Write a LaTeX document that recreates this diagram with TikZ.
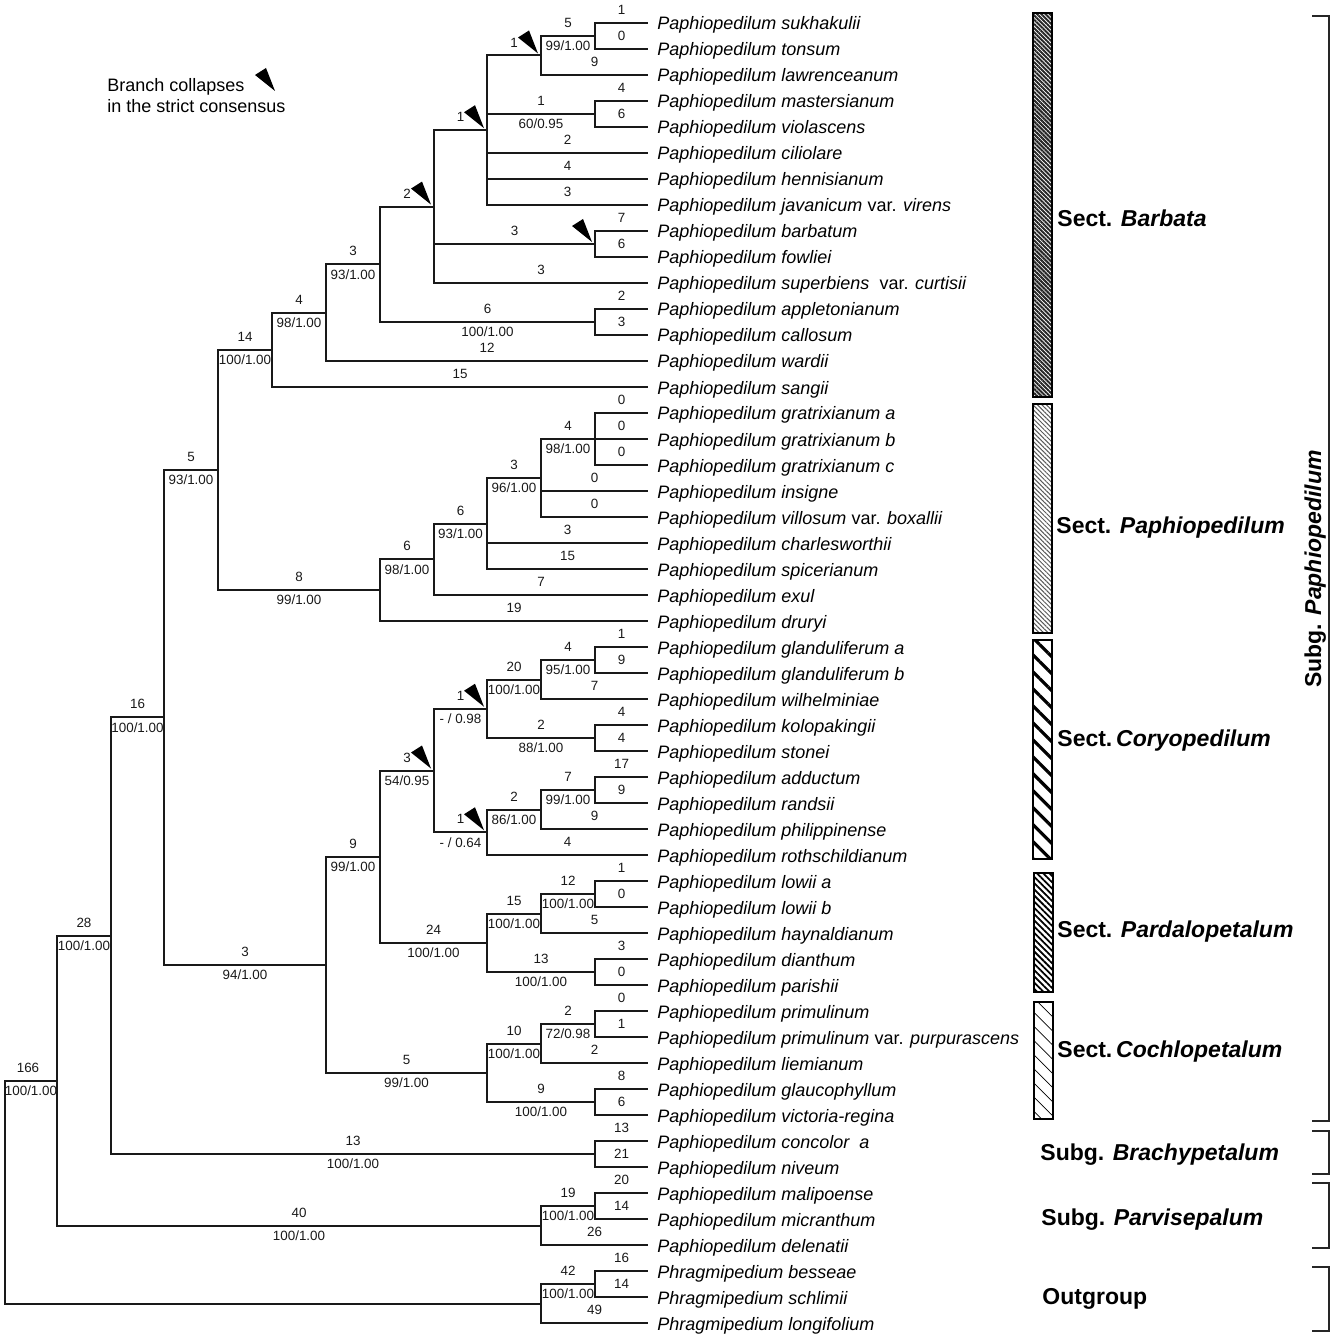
\documentclass[tikz,border=0pt]{standalone}
\usepackage{fontspec}
\setmainfont{Liberation Sans}
\usetikzlibrary{patterns.meta}
\newcommand\labfont{\fontsize{6.7pt}{8pt}\selectfont}
\newcommand\taxfont{\fontsize{9pt}{11pt}\selectfont}
\newcommand\grpfont{\fontsize{11.5pt}{13pt}\selectfont\bfseries}
\begin{document}
\begin{tikzpicture}[x=0.5pt,y=-0.5pt,
  br/.style={line width=1pt, line join=miter, black!90},
  lenlab/.style={pos=0.75, yshift=6.5pt, font=\labfont, inner sep=0pt},
  suplab/.style={pos=0.75, yshift=-5pt, font=\labfont, inner sep=0pt},
  tip/.style={anchor=west, inner xsep=4.5pt, inner ysep=0pt, text height=7pt, text depth=0pt, font=\taxfont},
  grp/.style={anchor=west, inner sep=0pt, text height=8.2pt, text depth=0pt, font=\grpfont},
  bar/.style={draw=black, line width=0.8pt},
  brk/.style={draw=black!85, line width=0.75pt},
  collapsemark/.pic={\fill (-3,-2) -- (-23,-18) -- (-12,-25) -- cycle;}
]
\useasboundingbox (0,0) rectangle (1334,1336);

% legend
\node[anchor=base west, inner sep=0pt, font=\taxfont] (leg1) at (107,92) {Branch collapses};
\node[anchor=base west, inner sep=0pt, font=\taxfont] (leg2) at (107,113) {in the strict consensus};
\pic at (278,93) {collapsemark};

% tips
\node[tip] (t1) at (648,23) {\textit{Paphiopedilum sukhakulii}};
\node[tip] (t2) at (648,49) {\textit{Paphiopedilum tonsum}};
\node[tip] (t3) at (648,75) {\textit{Paphiopedilum lawrenceanum}};
\node[tip] (t4) at (648,101) {\textit{Paphiopedilum mastersianum}};
\node[tip] (t5) at (648,127) {\textit{Paphiopedilum violascens}};
\node[tip] (t6) at (648,153) {\textit{Paphiopedilum ciliolare}};
\node[tip] (t7) at (648,179) {\textit{Paphiopedilum hennisianum}};
\node[tip] (t8) at (648,205) {\textit{Paphiopedilum javanicum} var. \textit{virens}};
\node[tip] (t9) at (648,231) {\textit{Paphiopedilum barbatum}};
\node[tip] (t10) at (648,257) {\textit{Paphiopedilum fowliei}};
\node[tip] (t11) at (648,283) {\textit{Paphiopedilum superbiens}\ \ var. \textit{curtisii}};
\node[tip] (t12) at (648,309) {\textit{Paphiopedilum appletonianum}};
\node[tip] (t13) at (648,335) {\textit{Paphiopedilum callosum}};
\node[tip] (t14) at (648,361) {\textit{Paphiopedilum wardii}};
\node[tip] (t15) at (648,387) {\textit{Paphiopedilum sangii}};
\node[tip] (t16) at (648,413) {\textit{Paphiopedilum gratrixianum a}};
\node[tip] (t17) at (648,439) {\textit{Paphiopedilum gratrixianum b}};
\node[tip] (t18) at (648,465) {\textit{Paphiopedilum gratrixianum c}};
\node[tip] (t19) at (648,491) {\textit{Paphiopedilum insigne}};
\node[tip] (t20) at (648,517) {\textit{Paphiopedilum villosum} var. \textit{boxallii}};
\node[tip] (t21) at (648,543) {\textit{Paphiopedilum charlesworthii}};
\node[tip] (t22) at (648,569) {\textit{Paphiopedilum spicerianum}};
\node[tip] (t23) at (648,595) {\textit{Paphiopedilum exul}};
\node[tip] (t24) at (648,621) {\textit{Paphiopedilum druryi}};
\node[tip] (t25) at (648,647) {\textit{Paphiopedilum glanduliferum a}};
\node[tip] (t26) at (648,673) {\textit{Paphiopedilum glanduliferum b}};
\node[tip] (t27) at (648,699) {\textit{Paphiopedilum wilhelminiae}};
\node[tip] (t28) at (648,725) {\textit{Paphiopedilum kolopakingii}};
\node[tip] (t29) at (648,751) {\textit{Paphiopedilum stonei}};
\node[tip] (t30) at (648,777) {\textit{Paphiopedilum adductum}};
\node[tip] (t31) at (648,803) {\textit{Paphiopedilum randsii}};
\node[tip] (t32) at (648,829) {\textit{Paphiopedilum philippinense}};
\node[tip] (t33) at (648,855) {\textit{Paphiopedilum rothschildianum}};
\node[tip] (t34) at (648,881) {\textit{Paphiopedilum lowii a}};
\node[tip] (t35) at (648,907) {\textit{Paphiopedilum lowii b}};
\node[tip] (t36) at (648,933) {\textit{Paphiopedilum haynaldianum}};
\node[tip] (t37) at (648,959) {\textit{Paphiopedilum dianthum}};
\node[tip] (t38) at (648,985) {\textit{Paphiopedilum parishii}};
\node[tip] (t39) at (648,1011) {\textit{Paphiopedilum primulinum}};
\node[tip] (t40) at (648,1037) {\textit{Paphiopedilum primulinum} var. \textit{purpurascens}};
\node[tip] (t41) at (648,1063) {\textit{Paphiopedilum liemianum}};
\node[tip] (t42) at (648,1089) {\textit{Paphiopedilum glaucophyllum}};
\node[tip] (t43) at (648,1115) {\textit{Paphiopedilum victoria-regina}};
\node[tip] (t44) at (648,1141) {\textit{Paphiopedilum concolor\ \ a}};
\node[tip] (t45) at (648,1167) {\textit{Paphiopedilum niveum}};
\node[tip] (t46) at (648,1193) {\textit{Paphiopedilum malipoense}};
\node[tip] (t47) at (648,1219) {\textit{Paphiopedilum micranthum}};
\node[tip] (t48) at (648,1245) {\textit{Paphiopedilum delenatii}};
\node[tip] (t49) at (648,1271) {\textit{Phragmipedium besseae}};
\node[tip] (t50) at (648,1297) {\textit{Phragmipedium schlimii}};
\node[tip] (t51) at (648,1323) {\textit{Phragmipedium longifolium}};

% internal nodes
\coordinate (A1) at (595,36);
\coordinate (A2) at (541,55.5);
\coordinate (A3) at (595,114);
\coordinate (A4) at (487,130.25);
\coordinate (A5) at (595,244);
\coordinate (A6) at (434,206.6);
\coordinate (A7) at (595,322);
\coordinate (A8) at (380,264.3);
\coordinate (A9) at (326,312.6);
\coordinate (A10) at (272,349.8);
\coordinate (B1) at (595,439);
\coordinate (B2) at (541,478);
\coordinate (B3) at (487,523.5);
\coordinate (B4) at (434,559.25);
\coordinate (B5) at (380,590.1);
\coordinate (B6) at (218,470);
\coordinate (C1) at (595,660);
\coordinate (C2) at (541,679.5);
\coordinate (C3) at (595,738);
\coordinate (C4) at (487,708.75);
\coordinate (C5) at (595,790);
\coordinate (C6) at (541,809.5);
\coordinate (C7) at (487,832.25);
\coordinate (C8) at (434,770.5);
\coordinate (D1) at (595,894);
\coordinate (D2) at (541,913.5);
\coordinate (D3) at (595,972);
\coordinate (D4) at (487,942.75);
\coordinate (D5) at (380,856.6);
\coordinate (E1) at (595,1024);
\coordinate (E2) at (541,1043.5);
\coordinate (E3) at (595,1102);
\coordinate (E4) at (487,1072.75);
\coordinate (D6) at (326,964.7);
\coordinate (F1) at (164,717.3);
\coordinate (G1) at (595,1154);
\coordinate (F2) at (111,935.7);
\coordinate (H1) at (595,1206);
\coordinate (H2) at (541,1225.5);
\coordinate (F3) at (57,1080.6);
\coordinate (I1) at (595,1284);
\coordinate (I2) at (541,1303.5);
\coordinate (R) at (5,1192);

% Barbata
\draw[br] (A1) |- (t1.west) node[lenlab]{1};
\draw[br] (A1) |- (t2.west) node[lenlab]{0};
\draw[br] (A2) |- (A1) node[lenlab]{5} node[suplab]{99/1.00};
\draw[br] (A2) |- (t3.west) node[lenlab]{9};
\draw[br] (A3) |- (t4.west) node[lenlab]{4};
\draw[br] (A3) |- (t5.west) node[lenlab]{6};
\draw[br] (A4) |- (A2) node[lenlab]{1};
\draw[br] (A4) |- (A3) node[lenlab]{1} node[suplab]{60/0.95};
\draw[br] (A4) |- (t6.west) node[lenlab]{2};
\draw[br] (A4) |- (t7.west) node[lenlab]{4};
\draw[br] (A4) |- (t8.west) node[lenlab]{3};
\draw[br] (A5) |- (t9.west) node[lenlab]{7};
\draw[br] (A5) |- (t10.west) node[lenlab]{6};
\draw[br] (A6) |- (A4) node[lenlab]{1};
\draw[br] (A6) |- (A5) node[lenlab]{3};
\draw[br] (A6) |- (t11.west) node[lenlab]{3};
\draw[br] (A7) |- (t12.west) node[lenlab]{2};
\draw[br] (A7) |- (t13.west) node[lenlab]{3};
\draw[br] (A8) |- (A6) node[lenlab]{2};
\draw[br] (A8) |- (A7) node[lenlab]{6} node[suplab]{100/1.00};
\draw[br] (A9) |- (A8) node[lenlab]{3} node[suplab]{93/1.00};
\draw[br] (A9) |- (t14.west) node[lenlab]{12};
\draw[br] (A10) |- (A9) node[lenlab]{4} node[suplab]{98/1.00};
\draw[br] (A10) |- (t15.west) node[lenlab]{15};
\draw[br] (B6) |- (A10) node[lenlab]{14} node[suplab]{100/1.00};
% Paphiopedilum
\draw[br] (B1) |- (t16.west) node[lenlab]{0};
\draw[br] (B1) |- (t17.west) node[lenlab]{0};
\draw[br] (B1) |- (t18.west) node[lenlab]{0};
\draw[br] (B2) |- (B1) node[lenlab]{4} node[suplab]{98/1.00};
\draw[br] (B2) |- (t19.west) node[lenlab]{0};
\draw[br] (B2) |- (t20.west) node[lenlab]{0};
\draw[br] (B3) |- (B2) node[lenlab]{3} node[suplab]{96/1.00};
\draw[br] (B3) |- (t21.west) node[lenlab]{3};
\draw[br] (B3) |- (t22.west) node[lenlab]{15};
\draw[br] (B4) |- (B3) node[lenlab]{6} node[suplab]{93/1.00};
\draw[br] (B4) |- (t23.west) node[lenlab]{7};
\draw[br] (B5) |- (B4) node[lenlab]{6} node[suplab]{98/1.00};
\draw[br] (B5) |- (t24.west) node[lenlab]{19};
\draw[br] (B6) |- (B5) node[lenlab]{8} node[suplab]{99/1.00};
\draw[br] (F1) |- (B6) node[lenlab]{5} node[suplab]{93/1.00};
% Coryopedilum
\draw[br] (C1) |- (t25.west) node[lenlab]{1};
\draw[br] (C1) |- (t26.west) node[lenlab]{9};
\draw[br] (C2) |- (C1) node[lenlab]{4} node[suplab]{95/1.00};
\draw[br] (C2) |- (t27.west) node[lenlab]{7};
\draw[br] (C3) |- (t28.west) node[lenlab]{4};
\draw[br] (C3) |- (t29.west) node[lenlab]{4};
\draw[br] (C4) |- (C2) node[lenlab]{20} node[suplab]{100/1.00};
\draw[br] (C4) |- (C3) node[lenlab]{2} node[suplab]{88/1.00};
\draw[br] (C5) |- (t30.west) node[lenlab]{17};
\draw[br] (C5) |- (t31.west) node[lenlab]{9};
\draw[br] (C6) |- (C5) node[lenlab]{7} node[suplab]{99/1.00};
\draw[br] (C6) |- (t32.west) node[lenlab]{9};
\draw[br] (C7) |- (C6) node[lenlab]{2} node[suplab]{86/1.00};
\draw[br] (C7) |- (t33.west) node[lenlab]{4};
\draw[br] (C8) |- (C4) node[lenlab]{1} node[suplab]{- / 0.98};
\draw[br] (C8) |- (C7) node[lenlab]{1} node[suplab]{- / 0.64};
\draw[br] (D5) |- (C8) node[lenlab]{3} node[suplab]{54/0.95};
% Pardalopetalum
\draw[br] (D1) |- (t34.west) node[lenlab]{1};
\draw[br] (D1) |- (t35.west) node[lenlab]{0};
\draw[br] (D2) |- (D1) node[lenlab]{12} node[suplab]{100/1.00};
\draw[br] (D2) |- (t36.west) node[lenlab]{5};
\draw[br] (D3) |- (t37.west) node[lenlab]{3};
\draw[br] (D3) |- (t38.west) node[lenlab]{0};
\draw[br] (D4) |- (D2) node[lenlab]{15} node[suplab]{100/1.00};
\draw[br] (D4) |- (D3) node[lenlab]{13} node[suplab]{100/1.00};
\draw[br] (D5) |- (D4) node[lenlab]{24} node[suplab]{100/1.00};
\draw[br] (D6) |- (D5) node[lenlab]{9} node[suplab]{99/1.00};
% Cochlopetalum
\draw[br] (E1) |- (t39.west) node[lenlab]{0};
\draw[br] (E1) |- (t40.west) node[lenlab]{1};
\draw[br] (E2) |- (E1) node[lenlab]{2} node[suplab]{72/0.98};
\draw[br] (E2) |- (t41.west) node[lenlab]{2};
\draw[br] (E3) |- (t42.west) node[lenlab]{8};
\draw[br] (E3) |- (t43.west) node[lenlab]{6};
\draw[br] (E4) |- (E2) node[lenlab]{10} node[suplab]{100/1.00};
\draw[br] (E4) |- (E3) node[lenlab]{9} node[suplab]{100/1.00};
\draw[br] (D6) |- (E4) node[lenlab]{5} node[suplab]{99/1.00};
\draw[br] (F1) |- (D6) node[lenlab]{3} node[suplab]{94/1.00};
\draw[br] (F2) |- (F1) node[lenlab]{16} node[suplab]{100/1.00};
% Brachypetalum
\draw[br] (G1) |- (t44.west) node[lenlab]{13};
\draw[br] (G1) |- (t45.west) node[lenlab]{21};
\draw[br] (F2) |- (G1) node[lenlab]{13} node[suplab]{100/1.00};
\draw[br] (F3) |- (F2) node[lenlab]{28} node[suplab]{100/1.00};
% Parvisepalum
\draw[br] (H1) |- (t46.west) node[lenlab]{20};
\draw[br] (H1) |- (t47.west) node[lenlab]{14};
\draw[br] (H2) |- (H1) node[lenlab]{19} node[suplab]{100/1.00};
\draw[br] (H2) |- (t48.west) node[lenlab]{26};
\draw[br] (F3) |- (H2) node[lenlab]{40} node[suplab]{100/1.00};
\draw[br] (R) |- (F3) node[lenlab, xshift=-1.5pt]{166} node[suplab]{100/1.00};
% Outgroup
\draw[br] (I1) |- (t49.west) node[lenlab]{16};
\draw[br] (I1) |- (t50.west) node[lenlab]{14};
\draw[br] (I2) |- (I1) node[lenlab]{42} node[suplab]{100/1.00};
\draw[br] (I2) |- (t51.west) node[lenlab]{49};
\draw[br] (R) |- (I2);

% collapse marks
\pic at (A2) {collapsemark};
\pic at (A4) {collapsemark};
\pic at (A5) {collapsemark};
\pic at (A6) {collapsemark};
\pic at (C4) {collapsemark};
\pic at (C7) {collapsemark};
\pic at (C8) {collapsemark};

% section bars
\path[bar, fill=white, pattern={Lines[angle=-45,distance=1.5pt,line width=1pt]}, pattern color=black!85] (1033,13) rectangle (1052,397);
\path[bar, pattern={Lines[angle=-45,distance=1.6pt,line width=0.5pt]}, pattern color=black!65] (1033,404) rectangle (1052,633);
\path[bar, pattern={Lines[angle=-45,distance=6pt,line width=1.6pt]}, pattern color=black] (1033,640) rectangle (1052,859);
\path[bar, pattern={Lines[angle=-45,distance=2.2pt,line width=0.9pt]}, pattern color=black] (1034,873) rectangle (1053,992);
\path[bar, pattern={Lines[angle=-45,distance=5pt,line width=0.35pt]}, pattern color=black] (1034,1002) rectangle (1053,1119);

% group labels
\node[grp] (sBar) at (1057,218) {Sect. \textit{Barbata}};
\node[grp] (sPap) at (1056,525) {Sect. \textit{Paphiopedilum}};
\node[grp] (sCor) at (1057,738) {Sect.\,\textit{Coryopedilum}};
\node[grp] (sPar) at (1057,929) {Sect. \textit{Pardalopetalum}};
\node[grp] (sCoc) at (1057,1049) {Sect.\,\textit{Cochlopetalum}};
\node[grp] (gBra) at (1040,1152) {Subg. \textit{Brachypetalum}};
\node[grp] (gPar) at (1041,1217) {Subg. \textit{Parvisepalum}};
\node[grp] (gOut) at (1042,1296) {Outgroup};
\node[grp, anchor=center, rotate=90] (gPap) at (1313,569) {Subg. \textit{Paphiopedilum}};

% brackets
\draw[brk] (1312,16) -- (1329,16) -- (1329,1121) -- (1312,1121);
\draw[brk] (1312,1131) -- (1329,1131) -- (1329,1174) -- (1312,1174);
\draw[brk] (1312,1183) -- (1329,1183) -- (1329,1248) -- (1312,1248);
\draw[brk] (1312,1267) -- (1329,1267) -- (1329,1331) -- (1312,1331);
\end{tikzpicture}
\end{document}
